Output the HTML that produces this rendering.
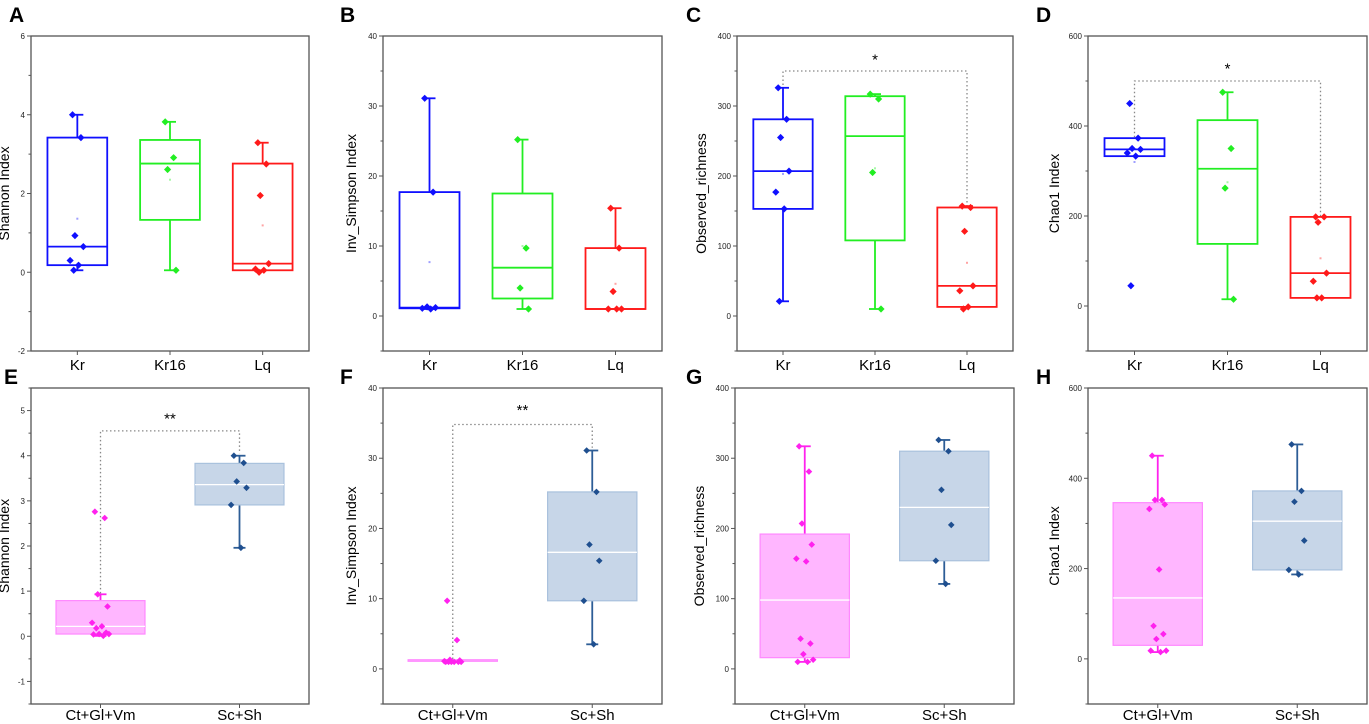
<!DOCTYPE html>
<html><head><meta charset="utf-8">
<style>
html,body{margin:0;padding:0;background:#fff;}
svg{display:block;font-family:"Liberation Sans",Arial,sans-serif;}
</style></head>
<body>
<svg id="fig" width="1369" height="724" viewBox="0 0 1369 724" xmlns="http://www.w3.org/2000/svg"></svg>
<script>
// ---------- DATA ----------
const catsTop = ["Kr","Kr16","Lq"];
const catsBot = ["Ct+Gl+Vm","Sc+Sh"];

// box stats: [whiskerLow, q1, median, q3, whiskerHigh]
const aBox = [[0.05,0.18,0.65,3.42,4.0],[0.05,1.33,2.76,3.36,3.82],[0.05,0.05,0.22,2.76,3.29]];
const aPts = [[4.0,3.42,0.93,0.65,0.3,0.18,0.05],[3.82,2.91,2.61,0.05],[3.29,2.75,1.95,0.22,0.08,0.05,0.0]];
const aMean = [1.36,2.35,1.19];

const bBox = [[1.0,1.1,1.2,17.7,31.1],[1.0,2.5,6.9,17.5,25.2],[1.0,1.0,1.0,9.7,15.4]];
const bPts = [[31.1,17.7,1.3,1.2,1.1,1.0],[25.2,9.7,4.0,1.0],[15.4,9.7,3.5,1.0,1.0,1.0]];
const bMean = [7.7,10.0,4.6];

const cBox = [[21,153,207,281,326],[10,108,257,314,317],[13,13,43,155,157]];
const cPts = [[326,281,255,207,177,153,21],[317,310,205,10],[157,155,121,43,36,13,10]];
const cMean = [203,211,76];

const dBox = [[333,333,348,373,373],[15,138,305,413,475],[18,18,73,198,198]];
const dPts = [[450,373,350,348,340,333,45],[475,350,262,15],[198,198,186,73,55,18,18]];
const dMean = [320,275,106];

const eBox = [[0.01,0.05,0.22,0.79,0.93],[1.96,2.91,3.36,3.83,4.0]];
const ePts = [[2.76,2.62,0.93,0.66,0.3,0.22,0.18,0.08,0.05,0.05,0.04,0.01],[4.0,3.84,3.43,3.29,2.91,1.96]];

const fBox = [[1.0,1.1,1.2,1.3,1.3],[3.5,9.7,16.6,25.2,31.1]];
const fPts = [[9.7,4.1,1.3,1.2,1.1,1.0,1.0,1.0,1.0,1.0,1.0],[31.1,25.2,17.7,15.4,9.7,3.5]];

const gBox = [[10,16,98,192,317],[121,154,230,310,326]];
const gPts = [[317,281,207,177,157,153,43,36,21,13,10,10],[326,310,255,205,154,121]];

const hBox = [[15,30,135,346,450],[187,197,305,372,475]];
const hPts = [[450,352,352,342,332,198,73,55,44,18,18,15],[475,372,348,262,197,187]];

const aTicks = [-2,0,2,4,6];
const bTicks = [0,10,20,30,40];
const cTicks = [0,100,200,300,400];
const dTicks = [0,200,400,600];
const eTicks = [-1,0,1,2,3,4,5];

// ---------- DRAW ----------
const NS = "http://www.w3.org/2000/svg";
const svg = document.getElementById("fig");
function mk(tag, attrs, parent){
  const e = document.createElementNS(NS, tag);
  for (const k in attrs) e.setAttribute(k, attrs[k]);
  (parent||svg).appendChild(e);
  return e;
}
const jit = [-4,3,-2,5,-6,1,-3,4,-1,6,-5,2];
const topCols = [{s:"#1010ff"},{s:"#22ee22"},{s:"#ff1a1a"}];
const botCols = [{fill:"#ffb6ff",stroke:"#ff88ff",pt:"#ff22ee",wh:"#ff22ee"},
                 {fill:"#c7d6e8",stroke:"#a9c1dd",pt:"#1f4f8f",wh:"#2d5d96"}];

function panel(cfg){
  const g = mk("g", {});
  
  
  const {x0,x1,y0,y1,dmin,dmax} = cfg;
  const ys = v => y1 - (v - dmin) / (dmax - dmin) * (y1 - y0);
  const n = cfg.cats.length;
  const xs = i => x0 + (x1 - x0) * (2*i + 1) / (2*n);
  const bw = (x1 - x0) * (n === 3 ? 0.215 : 0.32);
  const isBot = y0 > 300;

  const lt = mk("text", {x: cfg.lx, y: isBot ? y0-4 : 22, "font-size": 21, "font-weight": "bold", fill:"#000"}, g);
  lt.textContent = cfg.letter;
  
  

  const fr = mk("rect", {x:x0, y:y0, width:x1-x0, height:y1-y0, fill:"none", stroke:"#555", "stroke-width":1.3}, g);
  
  

  cfg.ticks.forEach(t => {
    const y = ys(t);
    mk("line", {x1:x0-4, x2:x0, y1:y, y2:y, stroke:"#555", "stroke-width":1}, g);
    const tx = mk("text", {x:x0-6, y:y+3, "font-size":8, "text-anchor":"end", fill:"#222"}, g);
    tx.textContent = t;
    
    
  });
  for (let m = Math.ceil(dmin / cfg.minor) * cfg.minor; m <= dmax + 1e-9; m += cfg.minor) {
    if (cfg.ticks.some(t => Math.abs(t - m) < 1e-9)) continue;
    mk("line", {x1:x0-2.5, x2:x0, y1:ys(m), y2:ys(m), stroke:"#555", "stroke-width":1}, g);
  }
  const yt = mk("text", {x:0, y:0, "font-size":14, "text-anchor":"middle", fill:"#000",
     transform:`translate(${x0-cfg.ytOff},${(y0+y1)/2}) rotate(-90)`}, g);
  yt.textContent = cfg.ytitle;
  
  

  cfg.cats.forEach((c,i) => {
    mk("line", {x1:xs(i), x2:xs(i), y1:y1, y2:y1+4, stroke:"#555", "stroke-width":1}, g);
    const tx = mk("text", {x:xs(i), y:y1 + (isBot ? 16 : 19), "font-size":15, "text-anchor":"middle", fill:"#000"}, g);
    tx.textContent = c;
    
    
  });

  if (cfg.sig) {
    const [i1,i2,lv,top1,top2,txt,sy] = cfg.sig;
    const b = mk("path", {d:`M${xs(i1)},${ys(top1)} V${ys(lv)} H${xs(i2)} V${ys(top2)}`, fill:"none", stroke:"#888", "stroke-width":1.3, "stroke-dasharray":"1.5,2.5"}, g);
    
    
    const st = mk("text", {x:(xs(i1)+xs(i2))/2, y:ys(sy)+6, "font-size":15, "text-anchor":"middle", fill:"#000"}, g);
    st.textContent = txt;
    
    
  }

  cfg.box.forEach((bx,i) => {
    const [wl,q1,md,q3,wh] = bx;
    const cx = xs(i);
    const filled = !!cfg.filled;
    const col = filled ? botCols[i] : {fill:"none", stroke:topCols[i].s, pt:topCols[i].s, wh:topCols[i].s};
    const bg = mk("g", {}, g);
    
    
    if (wh > q3) {
      mk("line", {x1:cx, x2:cx, y1:ys(q3), y2:ys(wh), stroke:col.wh, "stroke-width":1.8}, bg);
      mk("line", {x1:cx-6, x2:cx+6, y1:ys(wh), y2:ys(wh), stroke:col.wh, "stroke-width":1.8}, bg);
    }
    if (wl < q1) {
      mk("line", {x1:cx, x2:cx, y1:ys(q1), y2:ys(wl), stroke:col.wh, "stroke-width":1.8}, bg);
      mk("line", {x1:cx-6, x2:cx+6, y1:ys(wl), y2:ys(wl), stroke:col.wh, "stroke-width":1.8}, bg);
    }
    const h = Math.max(ys(q1) - ys(q3), 1.5);
    mk("rect", {x:cx-bw/2, y:ys(q3), width:bw, height:h, fill:col.fill, stroke:col.stroke, "stroke-width": filled ? 1.2 : 1.8}, bg);
    if (!(filled && h < 4))
      mk("line", {x1:cx-bw/2, x2:cx+bw/2, y1:ys(md), y2:ys(md), stroke: filled ? "#fff" : col.stroke, "stroke-width": filled ? 1.3 : 1.8}, bg);
    if (cfg.mean) mk("rect", {x:cx-1, y:ys(cfg.mean[i])-1, width:2, height:2, fill:col.pt, opacity:0.4}, bg);
    cfg.pts[i].forEach((v,k) => {
      const px = cx + jit[k % jit.length] * (filled ? 1.4 : 1.2);
      const r = filled ? 3.3 : 3.6;
      const p = mk("path", {d:`M${px},${ys(v)-r} L${px+r},${ys(v)} L${px},${ys(v)+r} L${px-r},${ys(v)} Z`, fill:col.pt}, bg);
      
      
    });
  });
}

const topY0 = 36, topY1 = 351, botY0 = 388, botY1 = 704;
panel({letter:"A", lx:9, x0:31, x1:309, y0:topY0, y1:topY1, dmin:-2, dmax:6, ticks:aTicks, minor:1, ytitle:"Shannon Index", ytOff:22, cats:catsTop, box:aBox, pts:aPts, mean:aMean});
panel({letter:"B", lx:340, x0:383, x1:662, y0:topY0, y1:topY1, dmin:-5, dmax:40, ticks:bTicks, minor:5, ytitle:"Inv_Simpson Index", ytOff:27, cats:catsTop, box:bBox, pts:bPts, mean:bMean});
panel({letter:"C", lx:686, x0:737, x1:1013, y0:topY0, y1:topY1, dmin:-50, dmax:400, ticks:cTicks, minor:50, ytitle:"Observed_richness", ytOff:31, cats:catsTop, box:cBox, pts:cPts, mean:cMean, sig:[0,2,350,330,158,"*",368]});
panel({letter:"D", lx:1036, x0:1088, x1:1367, y0:topY0, y1:topY1, dmin:-100, dmax:600, ticks:dTicks, minor:100, ytitle:"Chao1 Index", ytOff:29, cats:catsTop, box:dBox, pts:dPts, mean:dMean, sig:[0,2,500,375,200,"*",530]});
panel({letter:"E", lx:4, x0:31, x1:309, y0:botY0, y1:botY1, dmin:-1.5, dmax:5.5, ticks:eTicks, minor:0.5, ytitle:"Shannon Index", ytOff:22, cats:catsBot, box:eBox, pts:ePts, filled:true, sig:[0,1,4.55,0.95,4.05,"**",4.85]});
panel({letter:"F", lx:340, x0:383, x1:662, y0:botY0, y1:botY1, dmin:-5, dmax:40, ticks:bTicks, minor:5, ytitle:"Inv_Simpson Index", ytOff:27, cats:catsBot, box:fBox, pts:fPts, filled:true, sig:[0,1,34.8,1.4,31.5,"**",37]});
panel({letter:"G", lx:686, x0:735, x1:1014, y0:botY0, y1:botY1, dmin:-50, dmax:400, ticks:cTicks, minor:50, ytitle:"Observed_richness", ytOff:31, cats:catsBot, box:gBox, pts:gPts, filled:true});
panel({letter:"H", lx:1036, x0:1088, x1:1367, y0:botY0, y1:botY1, dmin:-100, dmax:600, ticks:dTicks, minor:100, ytitle:"Chao1 Index", ytOff:29, cats:catsBot, box:hBox, pts:hPts, filled:true});
</script>
</body></html>
